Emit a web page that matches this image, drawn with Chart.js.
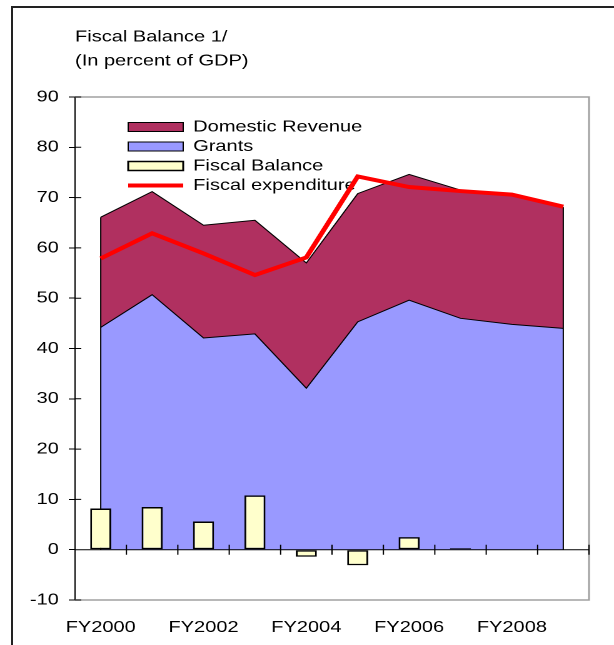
<!DOCTYPE html>
<html>
<head>
<meta charset="utf-8">
<script src="https://cdn.jsdelivr.net/npm/chart.js@4.4.1/dist/chart.umd.min.js"></script>
<style>
  html, body { margin: 0; padding: 0; background: #fff; overflow: hidden; }
  #frame { position: absolute; left: 11px; top: 6px; width: 700px; height: 700px; border: 2px solid #222; }
  /* the source picture is stretched sideways, so the canvas is too */
  #analyticsChart { position: absolute; left: 0; top: 0; transform: scaleX(1.2505); transform-origin: 0 0; }
</style>
</head>
<body>
<div id="frame"></div>
<canvas id="analyticsChart" width="491" height="645"></canvas>
<script>
const categories = ["FY2000", "FY2001", "FY2002", "FY2003", "FY2004", "FY2005", "FY2006", "FY2007", "FY2008", "FY2009"];
const grants = [44.2, 50.7, 42.1, 42.9, 32.1, 45.3, 49.6, 46.0, 44.8, 44.0];
const domesticRevenue = [21.9, 20.5, 22.4, 22.6, 24.9, 25.5, 25.0, 25.5, 25.7, 24.1];
const fiscalBalance = [8.2, 8.5, 5.6, 10.8, -1.4, -3.1, 2.5, 0.3, 0, 0];
const fiscalExpenditure = [57.9, 62.9, 58.9, 54.6, 58.1, 74.2, 72.1, 71.3, 70.6, 68.2];
const yTicks = [-10, 0, 10, 20, 30, 40, 50, 60, 70, 80, 90];
const titleLines = ["Fiscal Balance 1/", "(In percent of GDP)"];
const legendOrder = [1, 0, 2, 3];

Chart.defaults.font.family = "'Liberation Sans', Arial, sans-serif";
Chart.defaults.font.size = 16;
Chart.defaults.color = "#000";

// plot frame, zero axis with crossing ticks, area end edges
const decor = {
  id: "decor",
  beforeDatasetsDraw(chart) {
    const { ctx, chartArea: a } = chart;
    ctx.save();
    ctx.strokeStyle = "#a0a0a0";
    ctx.lineWidth = 1.5;
    ctx.beginPath();
    ctx.moveTo(a.left, a.top);
    ctx.lineTo(a.right, a.top);
    ctx.lineTo(a.right, a.bottom);
    ctx.lineTo(a.left, a.bottom);
    ctx.stroke();
    ctx.restore();
  },
  afterDatasetDraw(chart, args) {
    if (args.index !== 0) return;
    const { ctx, scales: { y } } = chart;
    const y0 = y.getPixelForValue(0);
    const pts = chart.getDatasetMeta(1).data;
    ctx.save();
    ctx.strokeStyle = "#000";
    ctx.lineWidth = 1;
    ctx.beginPath();
    [pts[0], pts[pts.length - 1]].forEach((p) => {
      ctx.moveTo(p.x, y0);
      ctx.lineTo(p.x, p.y);
    });
    ctx.stroke();
    ctx.restore();
  },
  afterDatasetsDraw(chart) {
    const { ctx, chartArea: a, scales: { x, y } } = chart;
    const y0 = y.getPixelForValue(0);
    const n = categories.length;
    ctx.save();
    ctx.strokeStyle = "#000";
    ctx.lineWidth = 1;
    ctx.beginPath();
    ctx.moveTo(a.left, y0);
    ctx.lineTo(a.right, y0);
    for (let i = 0; i <= n; i++) {
      const px = x.left + (i * x.width) / n;
      ctx.moveTo(px, y0 - 5);
      ctx.lineTo(px, y0 + 5);
    }
    y.ticks.forEach((t) => {
      const py = y.getPixelForValue(t.value);
      ctx.moveTo(a.left, py);
      ctx.lineTo(a.left + 5, py);
    });
    ctx.stroke();
    ctx.restore();
  },
  afterLayout(chart) {
    // put the legend inside the plot, as in the source
    chart.legend.left = chart.chartArea.left + 39;
    chart.legend.top = chart.chartArea.top + 18.5;
  },
};

const ctx = document.getElementById("analyticsChart");

new Chart(ctx, {
  type: "bar",
  data: {
    labels: categories,
    datasets: [
      {
        type: "line",
        label: "Grants",
        data: grants,
        stack: "rev",
        order: 3,
        fill: "origin",
        backgroundColor: "#9999FF",
        borderColor: "#000",
        borderWidth: 1,
        pointRadius: 0,
        tension: 0,
      },
      {
        type: "line",
        label: "Domestic Revenue",
        data: domesticRevenue,
        stack: "rev",
        order: 4,
        fill: "-1",
        backgroundColor: "#B03060",
        borderColor: "#000",
        borderWidth: 1,
        pointRadius: 0,
        tension: 0,
      },
      {
        type: "bar",
        label: "Fiscal Balance",
        data: fiscalBalance,
        stack: "bal",
        order: 2,
        backgroundColor: "#FFFFCC",
        borderColor: "#000",
        borderWidth: 1.5,
        borderSkipped: false,
        barPercentage: 0.41,
        categoryPercentage: 1,
      },
      {
        type: "line",
        label: "Fiscal expenditure",
        data: fiscalExpenditure,
        stack: "exp",
        order: 1,
        fill: false,
        borderColor: "#FF0000",
        backgroundColor: "#FF0000",
        borderWidth: 4,
        pointRadius: 0,
        tension: 0,
      },
    ],
  },
  options: {
    responsive: false,
    devicePixelRatio: 2,
    animation: false,
    layout: {
      padding: { left: 0, right: 20, top: 0, bottom: 0 },
    },
    plugins: {
      tooltip: { enabled: false },
      title: {
        display: true,
        text: titleLines,
        align: "start",
        fullSize: false,
        color: "#000",
        font: { size: 16, weight: "normal", lineHeight: 1.5 },
        padding: { top: 25, bottom: 24 },
      },
      legend: {
        position: "chartArea",
        align: "start",
        labels: {
          usePointStyle: true,
          pointStyleWidth: 44,
          boxHeight: 9,
          padding: 3.5,
          color: "#000",
          font: { size: 16 },
          generateLabels: (chart) => {
            const items = Chart.defaults.plugins.legend.labels.generateLabels(chart);
            items.forEach((it) => {
              const ds = chart.data.datasets[it.datasetIndex];
              it.pointStyle = ds.type === "line" && !ds.fill ? "line" : "rect";
              it.fillStyle = ds.backgroundColor;
              it.strokeStyle = ds.borderColor;
              it.lineWidth = ds.borderWidth;
            });
            return legendOrder.map((i) => items.find((it) => it.datasetIndex === i));
          },
        },
      },
    },
    scales: {
      y: {
        stacked: true,
        min: -10,
        max: 90,
        afterBuildTicks: (axis) => {
          axis.ticks = yTicks.map((value) => ({ value }));
        },
        afterFit: (scale) => {
          scale.width = 60;
        },
        ticks: {
          autoSkip: false,
          padding: 8,
          color: "#000",
        },
        grid: {
          drawOnChartArea: false,
          drawTicks: true,
          tickLength: 5,
          color: "#000",
        },
        border: { color: "#000", width: 1 },
      },
      x: {
        afterFit: (scale) => {
          scale.height = 45;
        },
        ticks: {
          autoSkip: false,
          maxRotation: 0,
          padding: 10,
          color: "#000",
          callback: (value, i) => (i % 2 === 0 ? categories[i] : ""),
        },
        grid: { display: false },
        border: { display: false },
      },
    },
  },
  plugins: [decor],
});
</script>
</body>
</html>
